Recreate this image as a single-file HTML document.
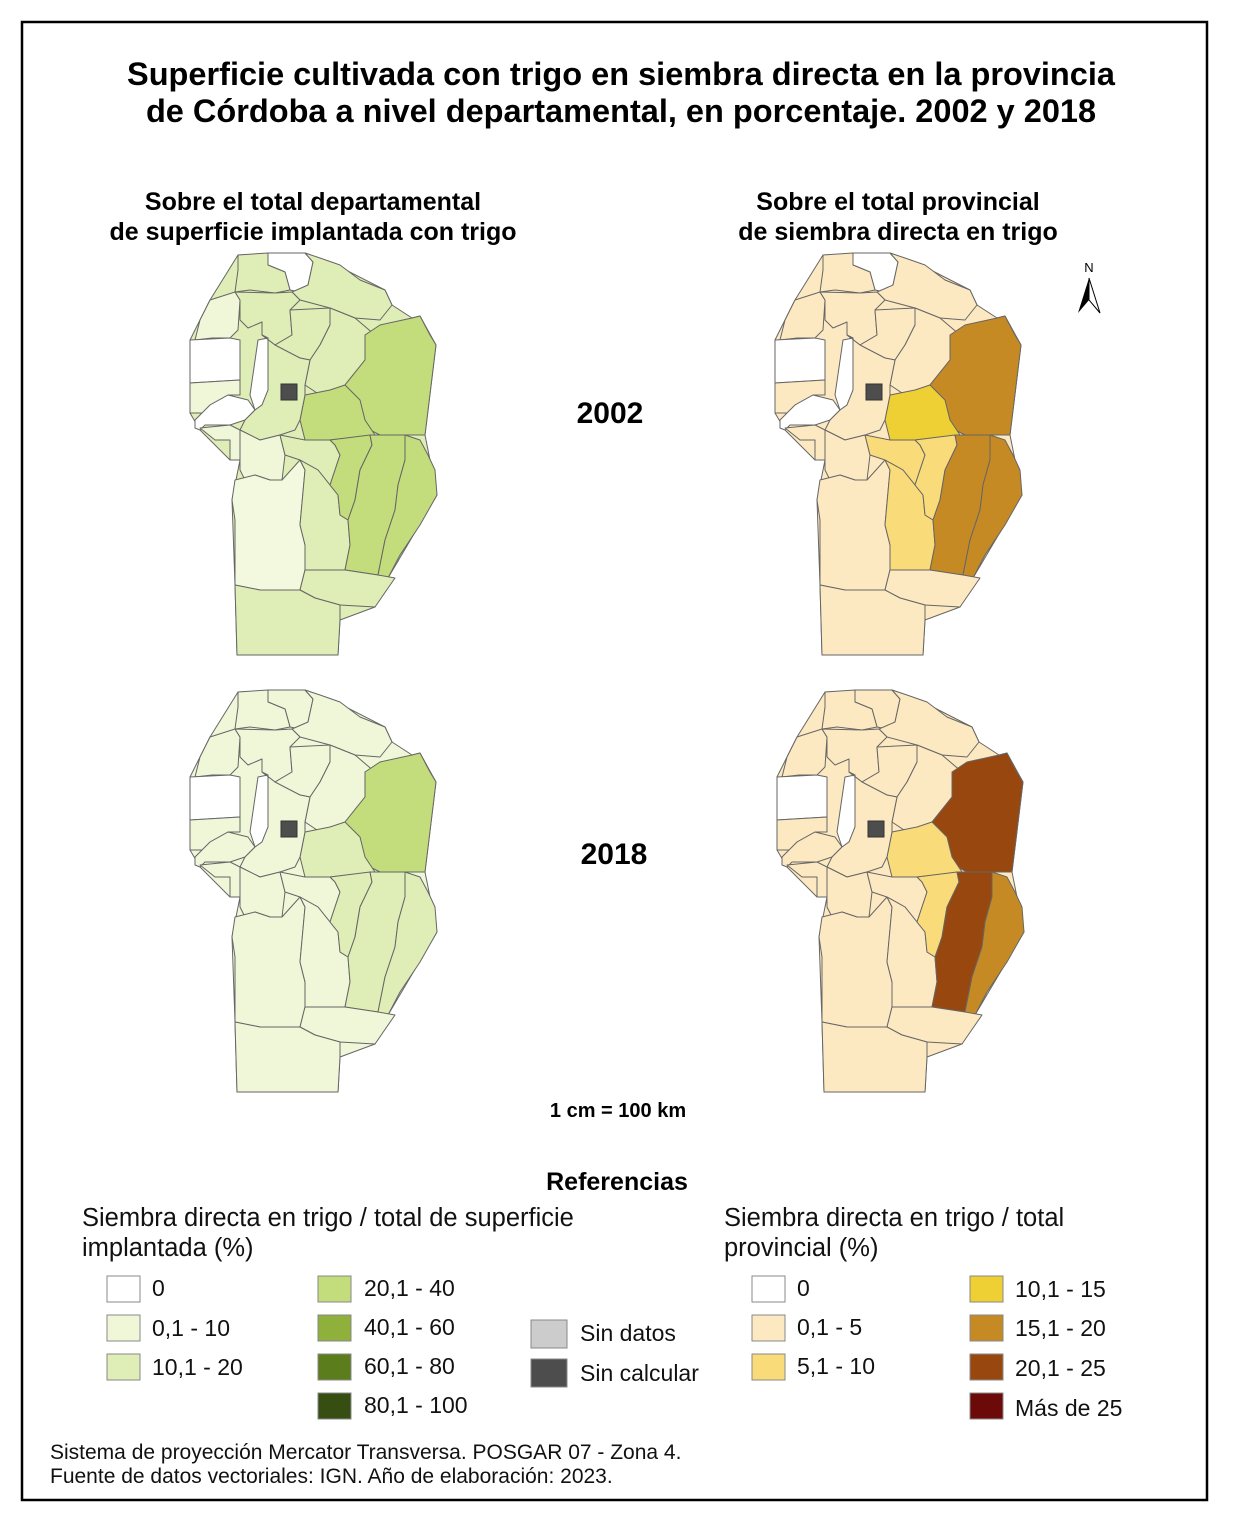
<!DOCTYPE html>
<html><head><meta charset="utf-8"><style>
body{margin:0;background:#fff;}
svg{display:block;font-family:"Liberation Sans",Arial,sans-serif;}
.m polygon{stroke:#666;stroke-width:1;stroke-linejoin:round;}
</style></head><body>
<svg width="1233" height="1522" viewBox="0 0 1233 1522" xmlns="http://www.w3.org/2000/svg" xmlns:xlink="http://www.w3.org/1999/xlink">
<rect x="0" y="0" width="1233" height="1522" fill="#fff"/>
<rect x="22" y="22" width="1185" height="1478" fill="none" stroke="#000" stroke-width="2.5"/>
<defs>
<g id="map" class="m">
<polygon fill="var(--bg)" style="stroke:#666" points="238,255 305,253 330,262 385,290 392,305 412,318 420,316 436,345 425,435 437,495 388,578 375,607 340,620 338,655 237,655 235,585 232,500 240,460 230,460 200,430 190,413 190,340 210,300"/>
<polygon fill="var(--A)" points="268,253 305,253 313,262 308,285 300,292 290,290 285,272 268,265"/>
<polygon fill="var(--B)" points="238,255 268,253 268,265 285,272 290,290 275,293 250,290 235,292 238,270"/>
<polygon fill="var(--C)" points="305,253 320,258 340,265 360,280 385,290 392,305 380,320 355,318 330,308 300,300 292,292 308,285 313,262"/>
<polygon fill="var(--D)" points="210,300 235,292 240,300 238,330 230,338 212,338 195,340 200,320"/>
<polygon fill="var(--E)" points="235,292 275,293 292,292 300,300 290,310 292,335 275,345 262,335 262,322 248,328 240,320 240,300"/>
<polygon fill="var(--F)" points="290,310 330,308 330,325 320,345 310,360 300,358 280,350 275,345 292,335"/>
<polygon fill="var(--G)" points="330,308 355,318 375,335 365,360 345,385 320,395 305,385 310,360 320,345 330,325"/>
<polygon fill="var(--H)" points="365,335 380,325 412,318 420,316 430,335 436,345 425,435 410,435 380,435 370,430 345,390 345,385 365,360"/>
<polygon fill="var(--I)" points="305,395 330,390 345,385 360,400 365,420 375,435 330,440 305,440 300,420"/>
<polygon fill="var(--W)" points="190,340 230,338 240,340 240,380 190,383"/>
<polygon fill="var(--W)" points="258,340 268,338 268,390 262,405 255,410 250,395"/>
<polygon fill="var(--K)" points="190,383 240,380 240,395 228,395 210,405 205,413 190,413"/>
<polygon fill="var(--W3)" points="195,420 210,405 228,395 248,400 255,410 245,420 230,425 205,425 200,430 195,428"/>
<polygon fill="var(--L)" points="200,428 230,425 240,430 240,460 230,460 230,440 215,440"/>
<polygon fill="var(--Cap)" points="262,335 275,345 300,358 310,360 305,385 305,395 300,420 295,430 280,435 260,440 240,430 245,420 255,410 262,405 268,390 268,338"/>
<polygon fill="var(--M)" points="240,430 260,440 280,435 285,455 282,480 270,480 255,475 245,480 240,470"/>
<polygon fill="var(--N)" points="280,435 305,440 330,440 335,445 340,455 335,470 330,485 318,470 300,460 285,455"/>
<polygon fill="var(--O)" points="235,480 255,475 270,480 282,480 300,460 305,470 300,525 305,545 305,570 300,590 285,595 260,590 235,585 235,520 232,500"/>
<polygon fill="var(--P)" points="300,460 318,470 330,485 338,495 340,515 348,520 350,545 345,570 305,570 305,545 300,525 305,470"/>
<polygon fill="var(--Q)" points="330,440 370,435 372,445 360,470 355,500 348,520 340,515 338,495 330,485 335,470 340,455 335,445"/>
<polygon fill="var(--R)" points="370,435 405,435 405,460 398,485 395,510 385,540 378,575 345,570 350,545 348,520 355,500 360,470 372,445"/>
<polygon fill="var(--S)" points="405,435 420,440 428,455 435,470 437,495 420,525 400,555 388,578 378,575 385,540 395,510 398,485 405,460"/>
<polygon fill="var(--T)" points="305,570 345,570 378,575 395,578 375,607 340,605 315,598 300,590"/>
<polygon fill="var(--U)" points="235,585 260,590 300,590 315,598 340,605 340,620 338,655 237,655"/>
<rect x="281" y="384" width="16" height="16" fill="#4d4d4d" stroke="#333"/>
</g>
</defs>

<use xlink:href="#map" style="--bg:#dfedb6;--A:#fff;--B:#dfedb6;--C:#dfedb6;--D:#eff7d8;--E:#dfedb6;--F:#dfedb6;--G:#dfedb6;--H:#c3dc7c;--I:#c3dc7c;--W:#fff;--W3:#fff;--K:#eff7d8;--L:#eff7d8;--Cap:#dfedb6;--M:#eff7d8;--N:#dfedb6;--O:#f2f9de;--P:#dfedb6;--Q:#c3dc7c;--R:#c3dc7c;--S:#c3dc7c;--T:#dfedb6;--U:#dfedb6"/>
<use xlink:href="#map" transform="translate(585,0)" style="--bg:#fde9c1;--A:#fff;--B:#fde9c1;--C:#fde9c1;--D:#fde9c1;--E:#fde9c1;--F:#fde9c1;--G:#fde9c1;--H:#c68a24;--I:#efd034;--W:#fff;--W3:#fff;--K:#fde9c1;--L:#fde9c1;--Cap:#fde9c1;--M:#fde9c1;--N:#fadb7a;--O:#fde9c1;--P:#fadb7a;--Q:#fadb7a;--R:#c68a24;--S:#c68a24;--T:#fde9c1;--U:#fde9c1"/>
<use xlink:href="#map" transform="translate(0,437)" style="--bg:#eff7d8;--A:#eff7d8;--B:#eff7d8;--C:#eff7d8;--D:#eff7d8;--E:#eff7d8;--F:#eff7d8;--G:#eff7d8;--H:#c3dc7c;--I:#dfedb6;--W:#fff;--W3:#eff7d8;--K:#eff7d8;--L:#eff7d8;--Cap:#eff7d8;--M:#eff7d8;--N:#eff7d8;--O:#eff7d8;--P:#eff7d8;--Q:#dfedb6;--R:#dfedb6;--S:#dfedb6;--T:#eff7d8;--U:#eff7d8"/>
<use xlink:href="#map" transform="translate(587,437)" style="--bg:#fde9c1;--A:#fde9c1;--B:#fde9c1;--C:#fde9c1;--D:#fde9c1;--E:#fde9c1;--F:#fde9c1;--G:#fde9c1;--H:#98470f;--I:#fadb7a;--W:#fff;--W3:#fde9c1;--K:#fde9c1;--L:#fde9c1;--Cap:#fde9c1;--M:#fde9c1;--N:#fde9c1;--O:#fde9c1;--P:#fde9c1;--Q:#fadb7a;--R:#98470f;--S:#c68a24;--T:#fde9c1;--U:#fde9c1"/>

<g font-weight="bold" text-anchor="middle" fill="#000">
<text x="621" y="85" font-size="32.5">Superficie cultivada con trigo en siembra directa en la provincia</text>
<text x="621" y="122" font-size="32.5">de Córdoba a nivel departamental, en porcentaje. 2002 y 2018</text>
<text x="313" y="210" font-size="25">Sobre el total departamental</text>
<text x="313" y="240" font-size="25">de superficie implantada con trigo</text>
<text x="898" y="210" font-size="25">Sobre el total provincial</text>
<text x="898" y="240" font-size="25">de siembra directa en trigo</text>
<text x="610" y="423" font-size="30">2002</text>
<text x="614" y="864" font-size="30">2018</text>
<text x="618" y="1117" font-size="20">1 cm = 100 km</text>
<text x="617" y="1190" font-size="25">Referencias</text>
<text x="1089" y="272" font-size="13" font-weight="normal">N</text>
</g>
<polygon points="1089,278 1078,313 1089,300" fill="#000"/>
<polygon points="1089,278 1100,313 1089,300" fill="none" stroke="#000" stroke-width="1"/>

<g font-size="23" fill="#111">
<text x="82" y="1226" font-size="25.5">Siembra directa en trigo / total de superficie</text>
<text x="82" y="1256" font-size="25.5">implantada (%)</text>
<text x="724" y="1226" font-size="25.5">Siembra directa en trigo / total</text>
<text x="724" y="1256" font-size="25.5">provincial (%)</text>
<g stroke="#888" stroke-width="1">
<rect x="107" y="1276" width="33" height="26" fill="#fff"/>
<rect x="107" y="1315" width="33" height="26" fill="#eff7d8"/>
<rect x="107" y="1354" width="33" height="26" fill="#dfedb6"/>
<rect x="318" y="1276" width="33" height="26" fill="#c3dc7c"/>
<rect x="318" y="1315" width="33" height="26" fill="#8fb03a"/>
<rect x="318" y="1354" width="33" height="26" fill="#5b7d1c"/>
<rect x="318" y="1393" width="33" height="26" fill="#364e12"/>
<rect x="531" y="1320" width="36" height="28" fill="#ccc"/>
<rect x="531" y="1359" width="36" height="28" fill="#4d4d4d"/>
<rect x="752" y="1276" width="33" height="26" fill="#fff"/>
<rect x="752" y="1315" width="33" height="26" fill="#fde9c1"/>
<rect x="752" y="1354" width="33" height="26" fill="#fadb7a"/>
<rect x="970" y="1276" width="33" height="26" fill="#efd034"/>
<rect x="970" y="1315" width="33" height="26" fill="#c68a24"/>
<rect x="970" y="1354" width="33" height="26" fill="#98470f"/>
<rect x="970" y="1393" width="33" height="26" fill="#6b0a08"/>
</g>
<text x="152" y="1296">0</text>
<text x="152" y="1336">0,1 - 10</text>
<text x="152" y="1375">10,1 - 20</text>
<text x="364" y="1296">20,1 - 40</text>
<text x="364" y="1335">40,1 - 60</text>
<text x="364" y="1374">60,1 - 80</text>
<text x="364" y="1413">80,1 - 100</text>
<text x="580" y="1341">Sin datos</text>
<text x="580" y="1381">Sin calcular</text>
<text x="797" y="1296">0</text>
<text x="797" y="1335">0,1 - 5</text>
<text x="797" y="1374">5,1 - 10</text>
<text x="1015" y="1297">10,1 - 15</text>
<text x="1015" y="1336">15,1 - 20</text>
<text x="1015" y="1376">20,1 - 25</text>
<text x="1015" y="1416">Más de 25</text>
</g>
<g font-size="21" fill="#111">
<text x="50" y="1459">Sistema de proyección Mercator Transversa. POSGAR 07 - Zona 4.</text>
<text x="50" y="1483">Fuente de datos vectoriales: IGN. Año de elaboración: 2023.</text>
</g>
</svg>
</body></html>
